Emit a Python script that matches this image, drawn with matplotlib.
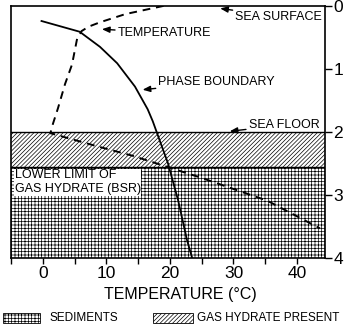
import matplotlib
matplotlib.use("Agg")
import matplotlib.pyplot as plt
from matplotlib.patches import Rectangle

plt.rcParams['font.family'] = ['Liberation Sans', 'DejaVu Sans']
plt.rcParams['hatch.linewidth'] = 0.5

# --- dados ---
temp_T = [19.0, 13.0, 9.0, 7.2, 6.1, 5.4, 4.6, 3.5, 2.4, 1.6, 1.2, 9.0, 14.2, 24.7, 35.3, 43.6]
temp_d = [0.0, 0.13, 0.26, 0.33, 0.40, 0.52, 0.93, 1.24, 1.62, 1.87, 2.02, 2.24, 2.38, 2.72, 3.09, 3.53]

phase_T = [-0.2, 5.8, 9.0, 11.7, 14.5, 16.5, 17.3, 19.7, 21.3, 22.7, 23.5]
phase_d = [0.24, 0.41, 0.65, 0.91, 1.28, 1.64, 1.83, 2.50, 3.09, 3.72, 4.0]

sea_floor = 2.0
bsr_depth = 2.55
depth_max = 4.0

x_ticks = [0, 10, 20, 30, 40]
x_minor = [-5, 5, 15, 25, 35]
y_ticks = [0, 1, 2, 3, 4]

sed_hatch = '+++++'
hyd_hatch = '////////'

fig = plt.figure(figsize=(3.47, 3.27), dpi=100)
ax = fig.add_axes([0.0317, 0.211, 0.905, 0.771])

# camadas
ax.axhspan(sea_floor, depth_max, facecolor='white', edgecolor='black', hatch=sed_hatch, linewidth=0)
ax.axhspan(sea_floor, bsr_depth, facecolor='white', edgecolor='black', hatch=hyd_hatch, linewidth=0)
ax.axhline(sea_floor, color='black', lw=1)
ax.axhline(bsr_depth, color='black', lw=1)

# curvas
ax.plot(temp_T, temp_d, color='black', lw=1.4, ls=(0, (4, 3)))
ax.plot(phase_T, phase_d, color='black', lw=1.3)

ax.set_xlim(-5, 44.4)
ax.set_ylim(depth_max, 0)

ax.set_xticks(x_ticks)
ax.set_xticks(x_minor, minor=True)
ax.tick_params(axis='x', which='both', direction='out', length=4, width=1, labelsize=12.5, pad=2)
ax.yaxis.tick_right()
ax.set_yticks(y_ticks)
ax.tick_params(axis='y', direction='out', length=5, width=1, labelsize=12.5, pad=1)
ax.set_xlabel('TEMPERATURE (°C)', fontsize=11.5)
ax.xaxis.set_label_coords(0.538, -0.146)
ax.xaxis.label.set_va('center')
for s in ax.spines.values():
    s.set_linewidth(1.2)

arrow = dict(arrowstyle='-|>,head_length=0.5,head_width=0.2', color='black', lw=1, shrinkA=0, shrinkB=0)
fs = 9
ax.annotate('SEA SURFACE', xy=(27.9, 0.04), xytext=(30.3, 0.17), fontsize=fs, va='center', arrowprops=arrow)
ax.annotate('TEMPERATURE', xy=(9.3, 0.37), xytext=(11.8, 0.43), fontsize=fs, va='center', arrowprops=arrow)
ax.annotate('PHASE BOUNDARY', xy=(15.7, 1.33), xytext=(18.2, 1.21), fontsize=fs, va='center', arrowprops=arrow)
ax.annotate('SEA FLOOR', xy=(29.4, 1.99), xytext=(32.4, 1.89), fontsize=fs, va='center', arrowprops=arrow)
ax.annotate('', xy=(15.6, 2.59), xytext=(14.9, 2.75), arrowprops=arrow)
ax.text(-4.4, 2.8, 'LOWER LIMIT OF\nGAS HYDRATE (BSR)', fontsize=fs, va='center', ha='left',
        linespacing=1.25, bbox=dict(facecolor='white', edgecolor='none', pad=0.3))

# legenda desenhada à mão
fig.patches.append(Rectangle((0.0086, 0.012), 0.107, 0.031, transform=fig.transFigure,
                             facecolor='white', edgecolor='black', hatch=sed_hatch, lw=0.6))
fig.patches.append(Rectangle((0.44, 0.012), 0.115, 0.031, transform=fig.transFigure,
                             facecolor='white', edgecolor='black', hatch=hyd_hatch, lw=0.6))
fig.text(0.144, 0.0275, 'SEDIMENTS', fontsize=8.5, va='center', ha='left')
fig.text(0.567, 0.0275, 'GAS HYDRATE PRESENT', fontsize=8.5, va='center', ha='left')

fig.savefig('out.png', dpi=100)
